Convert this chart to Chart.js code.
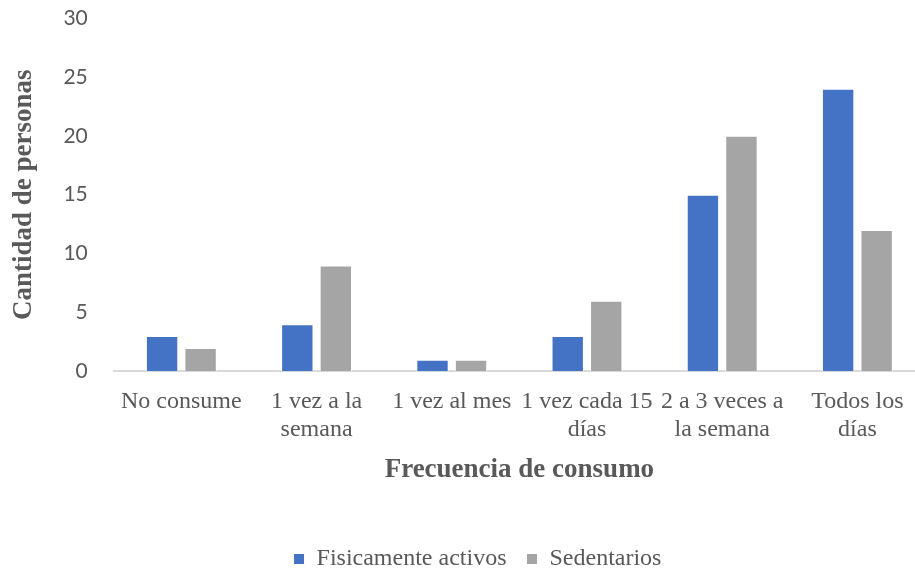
<!DOCTYPE html>
<html>
<head>
<meta charset="utf-8">
<script src="https://cdn.jsdelivr.net/npm/chart.js@4/dist/chart.umd.min.js"></script>
<style>
  html, body { margin: 0; padding: 0; background: #fff; overflow: hidden; }
  #wrap { width: 915px; height: 571px; overflow: hidden; }
  canvas { display: block; }
</style>
</head>
<body>
<div id="wrap"><canvas id="chart" width="935" height="571"></canvas></div>
<script>
// Frecuencia de consumo por grupo
const categories = [
  'No consume',
  ['1 vez a la', 'semana'],
  '1 vez al mes',
  ['1 vez cada 15', 'días'],
  ['2 a 3 veces a', 'la semana'],
  ['Todos los', 'días']
];
const activos = [3, 4, 1, 3, 15, 24];
const sedentarios = [2, 9, 1, 6, 20, 12];
const yTicks = [0, 5, 10, 15, 20, 25, 30];

const serif = '"Liberation Serif", "Times New Roman", serif';
const sans = 'Lato, "Liberation Sans", sans-serif';
const textGrey = '#595959';

// nudges the centred legend row sideways
const legendShift = {
  id: 'legendShift',
  afterLayout(chart) {
    chart.legend.left += 11;
    chart.legend.right += 11;
  }
};

new Chart(document.getElementById('chart'), {
  type: 'bar',
  data: {
    labels: categories,
    datasets: [
      {
        label: 'Fisicamente activos',
        data: activos,
        backgroundColor: '#4472C4',
        borderColor: '#ffffff',
        borderWidth: 1
      },
      {
        label: 'Sedentarios',
        data: sedentarios,
        backgroundColor: '#A5A5A5',
        borderColor: '#ffffff',
        borderWidth: 1
      }
    ]
  },
  options: {
    responsive: false,
    animation: false,
    layout: { padding: { left: 8, right: 10, top: 18, bottom: -10 } },
    datasets: { bar: { categoryPercentage: 0.57, barPercentage: 0.84 } },
    scales: {
      x: {
        grid: { display: false },
        border: { display: true, color: '#d9d9d9', width: 2 },
        ticks: {
          color: textGrey,
          font: { family: serif, size: 24, lineHeight: 1.17 },
          maxRotation: 0,
          autoSkip: false,
          padding: 8
        },
        title: {
          display: true,
          text: 'Frecuencia de consumo',
          color: textGrey,
          font: { family: serif, size: 27, weight: 'bold' },
          padding: { top: 2, bottom: 41 }
        }
      },
      y: {
        min: 0,
        max: 30,
        afterBuildTicks: (axis) => { axis.ticks = yTicks.map(v => ({ value: v })); },
        grid: {
          display: true,
          drawOnChartArea: false,
          drawTicks: true,
          tickLength: 26,
          tickColor: 'rgba(0,0,0,0)',
          color: 'rgba(0,0,0,0)'
        },
        border: { display: false },
        ticks: {
          color: textGrey,
          font: { family: sans, size: 21 },
          padding: 0
        },
        title: {
          display: true,
          text: 'Cantidad de personas',
          color: textGrey,
          font: { family: serif, size: 27, weight: 'bold' },
          padding: { top: 0, bottom: 23 }
        }
      }
    },
    plugins: {
      tooltip: { enabled: false },
      legend: {
        position: 'bottom',
        labels: {
          color: textGrey,
          font: { family: serif, size: 24 },
          boxWidth: 11,
          boxHeight: 11,
          padding: 20
        }
      }
    }
  },
  plugins: [legendShift]
});
</script>
</body>
</html>
